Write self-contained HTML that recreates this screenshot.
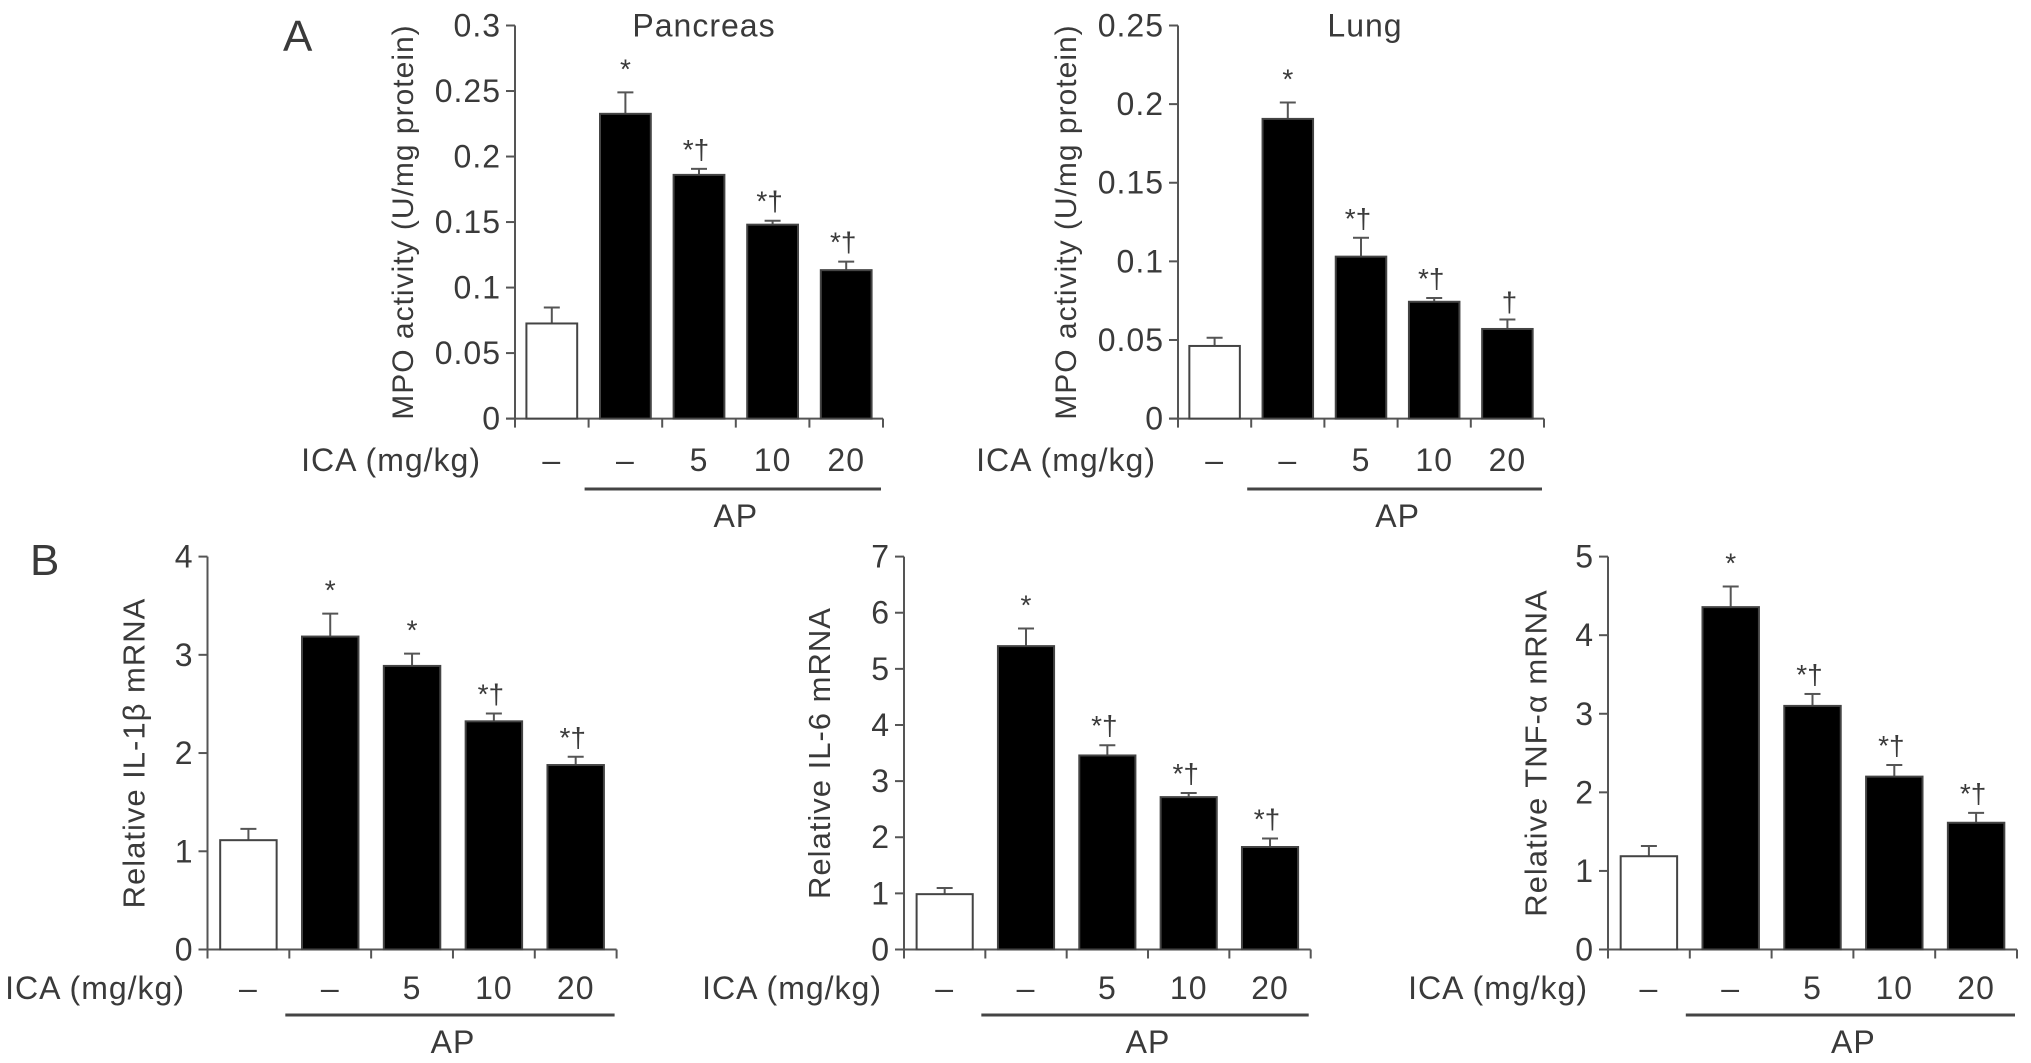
<!DOCTYPE html>
<html><head><meta charset="utf-8"><style>
html,body{margin:0;padding:0;background:#fff}
svg{display:block}
text{font-family:"Liberation Sans",Arial,sans-serif;fill:#3a3a3a}
</style></head><body>
<svg id="fig" width="2031" height="1063" viewBox="0 0 2031 1063" xmlns="http://www.w3.org/2000/svg">
<text x="283" y="51" font-size="44">A</text>
<text x="30" y="575" font-size="44">B</text>
</svg>
<script>
const categories = ["–","–","5","10","20"];
const pancreasMeans = [0.0726,0.2326,0.186,0.148,0.1133];
const pancreasErrs  = [0.0122,0.0164,0.0046,0.003,0.0065];
const pancreasSig   = ["","*","*†","*†","*†"];
const pancreasTicks = ["0","0.05","0.1","0.15","0.2","0.25","0.3"];
const lungMeans = [0.0462,0.1906,0.103,0.0743,0.057];
const lungErrs  = [0.0052,0.0104,0.012,0.0024,0.006];
const lungSig   = ["","*","*†","*†","†"];
const lungTicks = ["0","0.05","0.1","0.15","0.2","0.25"];
const il1bMeans = [1.113,3.186,2.887,2.323,1.878];
const il1bErrs  = [0.115,0.234,0.125,0.08,0.084];
const il1bSig   = ["","*","*","*†","*†"];
const il1bTicks = ["0","1","2","3","4"];
const il6Means = [0.986,5.405,3.457,2.715,1.826];
const il6Errs  = [0.11,0.315,0.183,0.073,0.152];
const il6Sig   = ["","*","*†","*†","*†"];
const il6Ticks = ["0","1","2","3","4","5","6","7"];
const tnfMeans = [1.187,4.357,3.1,2.2,1.613];
const tnfErrs  = [0.13,0.263,0.152,0.148,0.126];
const tnfSig   = ["","*","*†","*†","*†"];
const tnfTicks = ["0","1","2","3","4","5"];

const NS="http://www.w3.org/2000/svg";
const svg=document.getElementById('fig');
function mk(tag,attrs,parent){const e=document.createElementNS(NS,tag);for(const k in attrs)e.setAttribute(k,attrs[k]);(parent||svg).appendChild(e);return e;}
const FS=32, LS=1;

function chart(cfg,means,errs,sig,ticks){
  const g=mk('g',{});
  
  
  const ymax=parseFloat(ticks[ticks.length-1]);
  const y=v=>cfg.y0-(v/ymax)*(cfg.y0-cfg.yTop);
  const cw=(cfg.x1-cfg.x0)/categories.length;
  const xc=i=>cfg.x0+cw*(i+0.5);
  const bw=cw*0.69;
  const ya=mk('line',{x1:cfg.x0,y1:cfg.yTop,x2:cfg.x0,y2:cfg.y0,stroke:'#555','stroke-width':2},g);
  
  
  const xa=mk('line',{x1:cfg.x0-9,y1:cfg.y0,x2:cfg.x1,y2:cfg.y0,stroke:'#555','stroke-width':2},g);
  
  
  ticks.forEach(t=>{
    const v=parseFloat(t),yy=y(v);
    mk('line',{x1:cfg.x0-9,y1:yy,x2:cfg.x0,y2:yy,stroke:'#555','stroke-width':2},g);
    const tl=mk('text',{x:cfg.x0-14,y:yy+11,'font-size':FS,'letter-spacing':LS,'text-anchor':'end'},g);
    tl.textContent=t;
    
    
  });
  for(let i=0;i<=categories.length;i++){
    const xx=cfg.x0+cw*i;
    mk('line',{x1:xx,y1:cfg.y0,x2:xx,y2:cfg.y0+9,stroke:'#555','stroke-width':2},g);
  }
  means.forEach((m,i)=>{
    const top=y(m), et=y(m+errs[i]);
    const el=mk('line',{x1:xc(i),y1:top,x2:xc(i),y2:et,stroke:'#555','stroke-width':2},g);
    
    
    mk('line',{x1:xc(i)-8,y1:et,x2:xc(i)+8,y2:et,stroke:'#555','stroke-width':2},g);
    const r=mk('rect',{x:xc(i)-bw/2,y:top,width:bw,height:cfg.y0-top,fill:i===0?'#fff':'#000',stroke:'#444','stroke-width':2},g);
    
    
    const s=sig[i];
    if(s){
      const st=mk('text',{'font-size':28,'text-anchor':'middle'},g);
      
      
      if(s==='*'){st.setAttribute('x',xc(i));st.setAttribute('y',et-14);st.textContent='*';}
      else if(s==='†'){st.setAttribute('x',xc(i)+2);st.setAttribute('y',et-8);st.textContent='†';}
      else {st.setAttribute('x',xc(i)-3);st.setAttribute('y',et-10);st.textContent='*†';}
    }
    const cl=mk('text',{x:xc(i),y:cfg.labY+11,'font-size':FS,'letter-spacing':LS,'text-anchor':'middle'},g);
    cl.textContent=categories[i];
    
    
  });
  const ica=mk('text',{x:cfg.icaX,y:cfg.labY+11,'font-size':FS,'letter-spacing':LS,'text-anchor':'end'},g);
  ica.textContent='ICA (mg/kg)';
  
  
  const ap=mk('line',{x1:cfg.x0+cw-4,y1:cfg.apY,x2:cfg.x1-2,y2:cfg.apY,stroke:'#444','stroke-width':3},g);
  
  
  const apt=mk('text',{x:(cfg.x0+cw+cfg.x1)/2,y:cfg.apY+38,'font-size':FS,'letter-spacing':LS,'text-anchor':'middle'},g);
  apt.textContent='AP';
  
  
  const yl=mk('text',{x:0,y:0,'font-size':cfg.ylFs,'letter-spacing':1,'text-anchor':'middle',transform:`translate(${cfg.ylX+11},${(cfg.yTop+cfg.y0)/2}) rotate(-90)`},g);
  yl.textContent=cfg.ylabel;
  
  
  if(cfg.title){
    const t=mk('text',{x:cfg.titleX,y:cfg.yTop+11,'font-size':FS,'letter-spacing':LS,'text-anchor':'middle'},g);
    t.textContent=cfg.title;
    
    
  }
}
chart({name:'pancreas',x0:515,x1:883,yTop:25.5,y0:418.6,labY:460,apY:489,icaX:481,ylX:402,ylFs:30,title:'Pancreas',titleX:704,ylabel:'MPO activity (U/mg protein)'},pancreasMeans,pancreasErrs,pancreasSig,pancreasTicks);
chart({name:'lung',x0:1178,x1:1544,yTop:25.5,y0:418.6,labY:460,apY:489,icaX:1156,ylX:1065,ylFs:30,title:'Lung',titleX:1365,ylabel:'MPO activity (U/mg protein)'},lungMeans,lungErrs,lungSig,lungTicks);
chart({name:'il1b',x0:207.5,x1:616.6,yTop:556.6,y0:949.5,labY:988,apY:1015,icaX:185,ylX:133.5,ylFs:31,ylabel:'Relative IL-1β mRNA'},il1bMeans,il1bErrs,il1bSig,il1bTicks);
chart({name:'il6',x0:904,x1:1310.7,yTop:556.6,y0:949.5,labY:988,apY:1015,icaX:882,ylX:819,ylFs:31,ylabel:'Relative IL-6 mRNA'},il6Means,il6Errs,il6Sig,il6Ticks);
chart({name:'tnf',x0:1608,x1:2017,yTop:556.6,y0:949.5,labY:988,apY:1015,icaX:1588,ylX:1535.6,ylFs:31,ylabel:'Relative TNF-α mRNA'},tnfMeans,tnfErrs,tnfSig,tnfTicks);
</script>
</body></html>
